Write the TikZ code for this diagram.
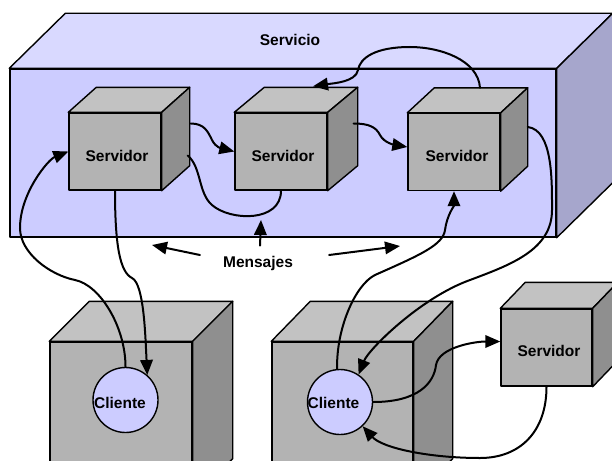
\documentclass[tikz,border=0pt]{standalone}
\usepackage{fontspec}
\setmainfont{Liberation Sans}
\usetikzlibrary{arrows.meta,calc}

\definecolor{svcfront}{HTML}{CCCCFF}
\definecolor{svctop}{HTML}{D9D9FF}
\definecolor{svcside}{HTML}{A6A6CC}
\definecolor{boxfront}{HTML}{B3B3B3}
\definecolor{boxtop}{HTML}{C2C2C2}
\definecolor{boxside}{HTML}{8F8F8F}

\tikzset{
  edge/.style={line width=1.4pt, draw=black, line join=round},
  front/.style={edge, rectangle, inner sep=0pt},
  lbl/.style={inner sep=1pt, font=\fontsize{15.5}{18}\selectfont\bfseries},
  client/.style={edge, circle, fill=svcfront, minimum size=65pt, inner sep=0pt},
  wire/.style={line width=2pt, line cap=round},
  conn/.style={wire, -{Triangle[length=15pt,width=12.5pt]}}
}

% top and right faces of a box whose front face is node #1, depth (#2,#3)
\newcommand\cubesides[5]{%
  \filldraw[edge, fill=#4] (#1.north west) -- ++(#2,#3) -- ($(#1.north east)+(#2,#3)$) -- (#1.north east) -- cycle;
  \filldraw[edge, fill=#5] (#1.north east) -- ($(#1.north east)+(#2,#3)$) -- ($(#1.south east)+(#2,#3)$) -- (#1.south east) -- cycle;
}

\begin{document}
\begin{tikzpicture}[x=1pt,y=-1pt]
\clip (0,0) rectangle (612,460);

% service container
\node[front, fill=svcfront, minimum width=546pt, minimum height=168pt] (svc) at (283,153) {};
\cubesides{svc}{56}{-55}{svctop}{svcside}
\node[lbl] (svct) at (290,40) {Servicio};

% servers inside the service
\node[front, fill=boxfront, minimum width=92pt, minimum height=77pt] (s1) at (115,151.5) {};
\cubesides{s1}{28}{-25}{boxtop}{boxside}
\node[lbl] (s1t) at ($(s1)+(2,4)$) {Servidor};

\node[front, fill=boxfront, minimum width=92pt, minimum height=77pt] (s2) at (281,151.5) {};
\cubesides{s2}{30}{-25}{boxtop}{boxside}
\node[lbl] (s2t) at ($(s2)+(2,4)$) {Servidor};

\node[front, fill=boxfront, minimum width=92pt, minimum height=77pt] (s3) at (454,152) {};
\cubesides{s3}{27}{-25}{boxtop}{boxside}
\node[lbl] (s3t) at ($(s3)+(3,4)$) {Servidor};

% client machines
\node[front, fill=boxfront, minimum width=142pt, minimum height=156pt] (b1) at (121,420) {};
\cubesides{b1}{40}{-40}{boxtop}{boxside}
\node[front, fill=boxfront, minimum width=141pt, minimum height=156pt] (b2) at (342.5,420) {};
\cubesides{b2}{39}{-40}{boxtop}{boxside}

% outside server
\node[front, fill=boxfront, minimum width=91pt, minimum height=77pt] (s4) at (546.5,347.5) {};
\cubesides{s4}{25}{-26}{boxtop}{boxside}
\node[lbl] (s4t) at ($(s4)+(2.5,3)$) {Servidor};

% clients
\node[client] (c1) at (125.5,400) {};
\node[lbl] (c1t) at (120,403) {Cliente};
\node[client] (c2) at (340,402) {};
\node[lbl] (c2t) at (333.5,403) {Cliente};

% message label
\node[lbl] (msg) at (258,263) {Mensajes};
\coordinate (mleft) at (152,245);
\coordinate (mright) at (400,246);
\coordinate (mup) at (261,220);

% connectors
\draw[conn] (s1.south) .. controls +(0,55) and +(-12,-6) .. (132,278)
  .. controls +(12,6) and +(-2,-40) .. (c1.49);
\draw[conn] (c1.north) .. controls +(0,-40) and +(25,5) .. (75,280)
  .. controls +(-25,-5) and +(0,25) .. (20,228)
  .. controls +(0,-35) and +(-20,8) .. (s1.west);
\draw[conn] ($(s1.east)+(29,-28)$) .. controls +(14,0) and +(-4,-8) .. (212,140)
  .. controls +(4,8) and +(-12,-3) .. (s2.west);
\draw[conn] ($(s2.east)+(26,-28)$) .. controls +(15,0) and +(-4,-8) .. (380,135)
  .. controls +(4,8) and +(-12,-2) .. ($(s3.west)+(0,-5)$);
\draw[wire] ($(s1.east)+(26,4)$) .. controls +(14,12) and +(-14,-12) .. (212,205)
  .. controls +(18,16) and +(0,32) .. (s2.south);
\draw[conn] ($(s3.north)+(26,-25)$) .. controls +(-2,-28) and +(30,0) .. (410,47)
  .. controls +(-35,0) and +(2,-12) .. (358,70)
  .. controls +(-2,12) and +(20,-3) .. ($(s2.north)+(32,-26)$);
\draw[conn] (c2.95) .. controls +(-1,-40) and +(-20,10) .. (375,275)
  .. controls +(45,-20) and +(-2,15) .. (445,230)
  .. controls +(2,-15) and +(0,15) .. (s3.south);
\draw[conn] ($(s3.east)+(27,-25)$) .. controls +(25,3) and +(0,-30) .. (552,210)
  .. controls +(0,40) and +(40,-15) .. (470,280)
  .. controls +(-50,18) and +(10,-25) .. (c2.56);
\draw[conn] (c2.east) .. controls +(45,0) and +(-2,18) .. (436,365)
  .. controls +(3,-18) and +(-25,0) .. ($(s4.west)+(0,-6)$);
\draw[conn] (s4.south) .. controls +(0,45) and +(40,0) .. (480,458)
  .. controls +(-50,0) and +(20,22) .. (c2.-47);

\draw[conn] ($(msg.west)+(-22,-8)$) -- (mleft);
\draw[conn] ($(msg.east)+(35,-8)$) -- (mright);
\draw[conn] ($(msg.north)+(2,-9)$) -- (mup);
\end{tikzpicture}
\end{document}
